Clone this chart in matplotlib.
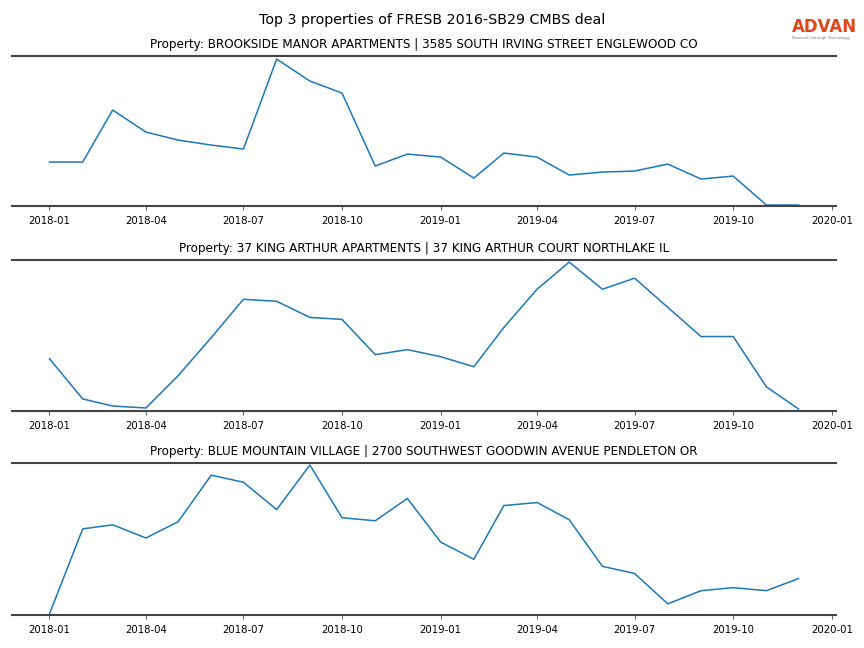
import numpy as np
import pandas as pd
import matplotlib
matplotlib.use("Agg")
import matplotlib.pyplot as plt

# monthly observations, 2018-01 .. 2019-12
months = pd.date_range("2018-01-01", "2019-12-01", freq="MS")

titles = [
    "Property: BROOKSIDE MANOR APARTMENTS | 3585 SOUTH IRVING STREET ENGLEWOOD CO",
    "Property: 37 KING ARTHUR APARTMENTS | 37 KING ARTHUR COURT NORTHLAKE IL",
    "Property: BLUE MOUNTAIN VILLAGE | 2700 SOUTHWEST GOODWIN AVENUE PENDLETON OR",
]

brookside = [44, 44, 96, 74, 66, 61, 57, 147, 125, 113, 40, 52,
             49, 28, 53, 49, 31, 34, 35, 42, 27, 30, 1, 1]
king_arthur = [52, 12, 5, 3, 35, 73, 111, 109, 93, 91, 56, 61,
               54, 44, 83, 121, 148, 121, 132, 103, 74, 74, 24, 2]
blue_mountain = [1, 85, 89, 76, 92, 138, 131, 104, 148, 96, 93, 115,
                 72, 55, 108, 111, 94, 48, 41, 11, 24, 27, 24, 36]

series = [brookside, king_arthur, blue_mountain]

fig = plt.figure(figsize=(8.64, 6.48), dpi=100)
fig.suptitle("Top 3 properties of FRESB 2016-SB29 CMBS deal", y=0.98, fontsize=10.3)

boxes = [(0.0139, 0.682, 0.9537, 0.2315),
         (0.0139, 0.3657, 0.9537, 0.233),
         (0.0139, 0.0509, 0.9537, 0.2346)]

for box, vals, t in zip(boxes, series, titles):
    ax = fig.add_axes(box)
    ax.plot(months, vals, color="#1f77b4", lw=1.1)
    ax.set_ylim(0, 150)
    ax.set_title(t, fontsize=8.65, pad=6)
    for s in ["left", "right"]:
        ax.spines[s].set_visible(False)
    for s in ["top", "bottom"]:
        ax.spines[s].set_color("#444444")
        ax.spines[s].set_linewidth(1.5)
    ax.set_yticks([])
    ticks = pd.date_range("2018-01-01", "2020-01-01", freq="3MS")
    ax.set_xticks(ticks)
    ax.set_xticklabels([d.strftime("%Y-%m") for d in ticks], fontsize=7.3)
    ax.tick_params(axis="x", length=3, color="#666666", pad=4)

# logo
fig.text(0.9165, 0.958, "ADVAN", color="#e0461c", fontsize=12, ha="left", va="center",
         fontweight="bold")
fig.text(0.9165, 0.941, "Research through Technology", color="#777777", fontsize=2.8,
         ha="left", va="center")

fig.savefig("out.png", dpi=100)
